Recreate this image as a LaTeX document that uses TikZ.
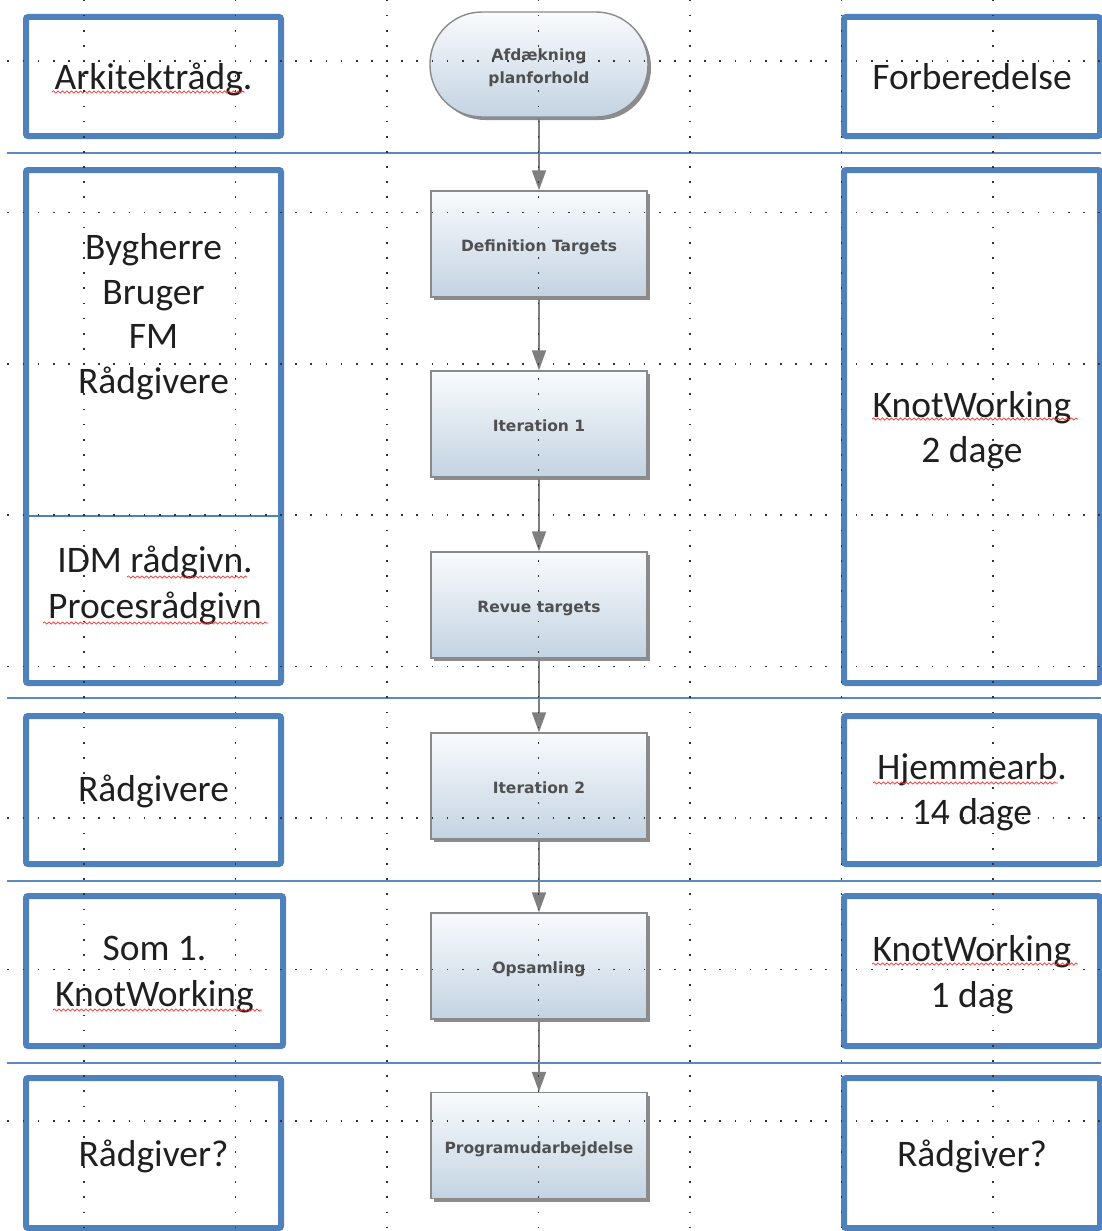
\documentclass[tikz,border=0pt]{standalone}
\usepackage{fontspec}
\setmainfont{Carlito}
\newfontfamily\flowfont{DejaVu Sans}
\usetikzlibrary{arrows.meta,shadows,decorations.pathmorphing}
\definecolor{laneblue}{HTML}{4F81BD}
\definecolor{lineblue}{HTML}{5A8AC4}
\definecolor{flowgray}{HTML}{8A8A8A}
\definecolor{arrowgray}{HTML}{7F7F7F}
\definecolor{fillTop}{HTML}{F9FBFD}
\definecolor{fillBot}{HTML}{C3D3E2}
\definecolor{flowtext}{HTML}{505050}
\newcommand\bigtxt{\fontsize{37.5}{45.5}\selectfont}
\newcommand\bigtxtb{\fontsize{37.5}{44.5}\selectfont}
\newcommand\smalltxt{\flowfont\bfseries\fontsize{15.5}{23}\selectfont}
\begin{document}
\begin{tikzpicture}[x=1pt,y=-1pt,
  lanebox/.style={draw=laneblue, line width=6pt, rounded corners=2pt, inner sep=0pt},
  laneline/.style={draw=lineblue, line width=2pt},
  lbl/.style={font=\bigtxt, align=center, inner sep=0pt, text=black!88,
    execute at begin node=\strut, execute at end node=\strut},
  flowbox/.style={draw=flowgray, line width=1.4pt, top color=fillTop, bottom color=fillBot,
    minimum width=216pt, minimum height=106pt, inner sep=0pt, font=\smalltxt, text=flowtext,
    text height=15pt, text depth=0pt,
    drop shadow={shadow xshift=3pt, shadow yshift=-3pt, fill=black, opacity=0.45}},
  stadium/.style={flowbox, rounded corners=52pt, minimum width=218pt, minimum height=105pt},
  flowlbl/.style={font=\smalltxt, text=flowtext, align=center, inner sep=0pt,
    execute at begin node=\strut, execute at end node=\strut},
  flowarrow/.style={draw=arrowgray, line width=1.8pt, -{Triangle[length=20pt,width=14pt]}, arrowgray},
  squig/.style={draw=red!80!white, line width=0.7pt, decorate,
    decoration={snake, amplitude=1.1pt, segment length=4.5pt}},
  griddots/.style={draw=black!80, line width=1.7pt, dash pattern=on 1.7pt off 13.45pt}
]
\useasboundingbox (0,0) rectangle (1101,1231);

% swimlane separators
\draw[laneline] (7,153) -- (1101,153);
\draw[laneline] (7,698) -- (1101,698);
\draw[laneline] (7,881) -- (1101,881);
\draw[laneline] (7,1063) -- (1101,1063);

% left column boxes
\node[lanebox, minimum width=255pt, minimum height=119pt] (L1) at (153.5,76.5) {};
\node[lanebox, minimum width=255pt, minimum height=513pt] (L2) at (153.5,426.5) {};
\node[lanebox, minimum width=255pt, minimum height=148pt] (L3) at (153.5,790) {};
\node[lanebox, minimum width=257pt, minimum height=150pt] (L4) at (154.5,971) {};
\node[lanebox, minimum width=255pt, minimum height=150pt] (L5) at (153.5,1153) {};
\coordinate (divy) at (0,516);
\draw[laneblue, line width=1.6pt] (L2.west |- divy) -- (L2.east |- divy);

% right column boxes
\node[lanebox, minimum width=256pt, minimum height=119pt] (R1) at (972,76.5) {};
\node[lanebox, minimum width=256pt, minimum height=513pt] (R2) at (972,426.5) {};
\node[lanebox, minimum width=256pt, minimum height=148pt] (R3) at (972,790) {};
\node[lanebox, minimum width=256pt, minimum height=150pt] (R4) at (972,971) {};
\node[lanebox, minimum width=256pt, minimum height=150pt] (R5) at (972,1153) {};

% left texts
\node[lbl] (L1t) at (153.5,80.3) {Arkitektrådg.};
\node[lbl, font=\bigtxtb] (L2t) at (153.5,320.3) {Bygherre\\Bruger\\FM\\Rådgivere};
\node[lbl] (L2u) at (155,588.8) {IDM rådgivn.\\Procesrådgivn};
\node[lbl] (L3t) at (153.5,792.3) {Rådgivere};
\node[lbl] (L4t) at (154.5,978.3) {Som 1.\\KnotWorking};
\node[lbl] (L5t) at (153.5,1157) {Rådgiver?};

% right texts
\node[lbl] (R1t) at (972,80.3) {Forberedelse};
\node[lbl] (R2t) at (972,433.8) {KnotWorking\\2 dage};
\node[lbl] (R3t) at (972,795.8) {Hjemmearb.\\14 dage};
\node[lbl] (R4t) at (972,978.3) {KnotWorking\\1 dag};
\node[lbl] (R5t) at (972,1157) {Rådgiver?};

% spell-check squiggles
\draw[squig] (52,92) -- (245,92);
\draw[squig] (127,577) -- (247,577);
\draw[squig] (43,623) -- (268,623);
\draw[squig] (53,1010) -- (262,1010);
\draw[squig] (872,419) -- (1078,419);
\draw[squig] (873,783) -- (1058,783);
\draw[squig] (872,964) -- (1078,964);

% center flow
\node[stadium] (s0) at (539,64.5) {};
\node[flowlbl] (s0t) at (539,69.5) {Afdækning\\planforhold};
\node[flowbox] (r1) at (539,244) {Definition Targets};
\node[flowbox] (r2) at (539,424) {Iteration 1};
\node[flowbox] (r3) at (539,605) {Revue targets};
\node[flowbox] (r4) at (539,786) {Iteration 2};
\node[flowbox] (r5) at (539,966) {Opsamling};
\node[flowbox] (r6) at (539,1145.5) {Programudarbejdelse};

\draw[flowarrow] (s0) -- (r1);
\draw[flowarrow] (r1) -- (r2);
\draw[flowarrow] (r2) -- (r3);
\draw[flowarrow] (r3) -- (r4);
\draw[flowarrow] (r4) -- (r5);
\draw[flowarrow] (r5) -- (r6);

% drawing grid (dotted)
\foreach \i in {0,...,6}
  \draw[griddots] ({84+151.5*\i},-0.46) -- ({84+151.5*\i},1232);
\foreach \j in {0,...,7}
  \draw[griddots] (7.35,{61+151.4*\j}) -- (1101,{61+151.4*\j});
\end{tikzpicture}
\end{document}
